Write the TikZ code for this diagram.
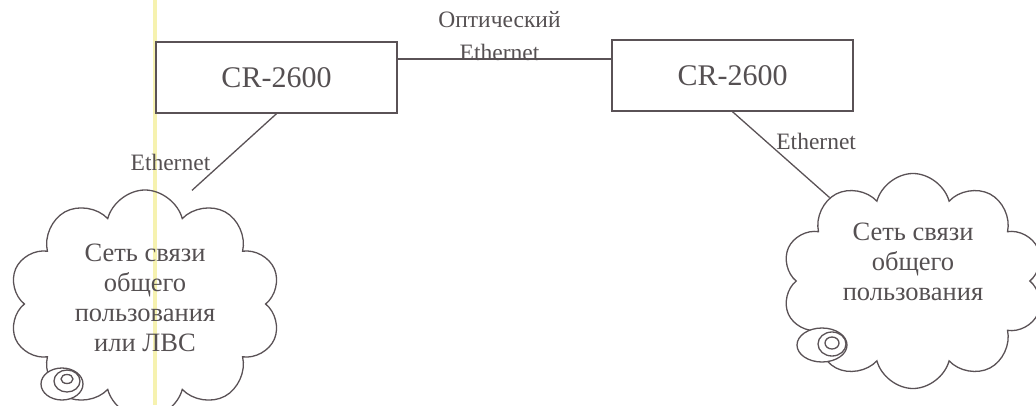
\documentclass[tikz,border=0pt]{standalone}
\usepackage{fontspec}
\setmainfont{Liberation Serif}
\usetikzlibrary{shapes.symbols,positioning}
\definecolor{ink}{HTML}{5A5256}
\definecolor{txt}{HTML}{555052}
\definecolor{marker}{HTML}{F6F2B0}
\begin{document}
\begin{tikzpicture}[x=1pt,y=-1pt,
    box/.style={draw=ink,line width=1.4pt,minimum width=241pt,minimum height=71pt,
      font=\fontsize{30}{30}\selectfont,text=txt},
    net/.style={cloud,cloud puffs=10,cloud ignores aspect,draw=ink,line width=1.3pt},
    nettext/.style={font=\fontsize{26.5}{30}\selectfont,text=txt,align=center},
    lbl/.style={font=\fontsize{23.5}{33}\selectfont,text=txt,align=center},
    link/.style={draw=ink,line width=1.3pt},
    puff/.style={draw=ink,line width=1.3pt,fill=white}]
    \useasboundingbox (0,0) rectangle (1036,405);
    \fill[marker] (153,0) rectangle (157,405);

    \node[box] at (276.5,77.5)(cr1){CR-2600};
    \node[box] at (732.5,75.5)(cr2){CR-2600};
    \node[net,minimum width=272pt,minimum height=228pt] at (145,304)(net1){};
    \node[net,minimum width=262pt,minimum height=215pt] at (913,281)(net2){};
    \node[nettext] at ([yshift=6pt]net1.center)(t1){Сеть связи\\общего\\пользования\\или ЛВС};
    \node[nettext] at ([yshift=19pt]net2.center)(t2){Сеть связи\\общего\\пользования};

    % small puffs
    \draw[puff] (62,384) ellipse[x radius=21pt,y radius=16pt];
    \draw[ink,line width=1.3pt] (67,381) ellipse[x radius=13pt,y radius=11pt]
      (67,379) ellipse[x radius=6pt,y radius=4.5pt];
    \draw[puff] (822,345) ellipse[x radius=25pt,y radius=17pt];
    \draw[ink,line width=1.3pt] (832,344) ellipse[x radius=14pt,y radius=12pt]
      (832,343) ellipse[x radius=7pt,y radius=6pt];

    \draw[link] ([yshift=18.5pt]cr1.east) coordinate (o1) -- (o1 -| cr2.west)
      node[lbl,midway,above=-6pt,xshift=-5pt]{Оптический\\Ethernet};
    \draw[link] (cr1.south) -- ([xshift=47pt,yshift=-1pt]net1.north)
      node[lbl,midway,left=20pt,yshift=-10pt]{Ethernet};
    \draw[link] (cr2.south) -- (net2.135) node[lbl,pos=0.38,right=3pt,yshift=3pt]{Ethernet};
\end{tikzpicture}
\end{document}
